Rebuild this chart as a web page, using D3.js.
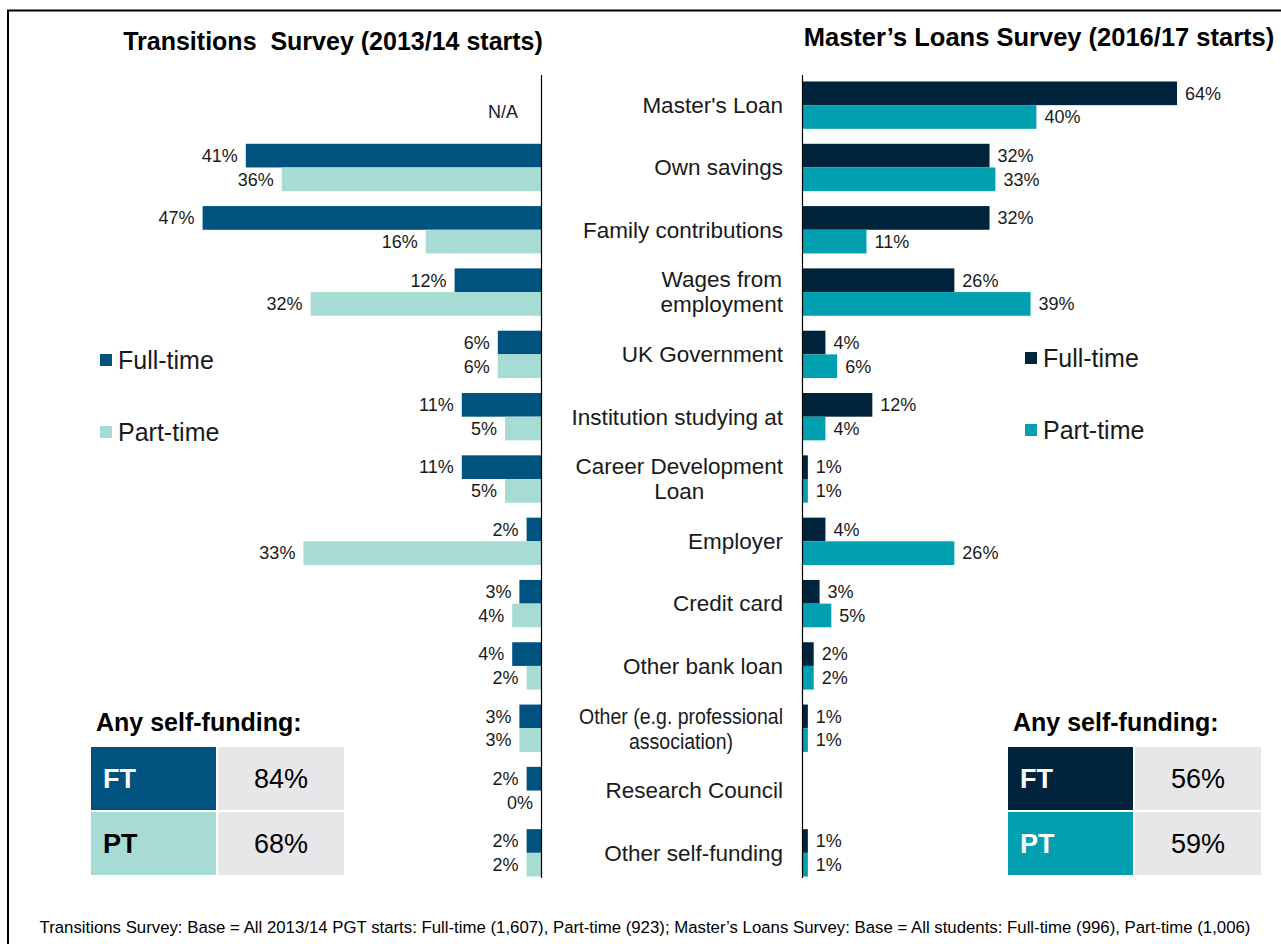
<!DOCTYPE html>
<html lang="en">
<head>
<meta charset="utf-8">
<title>Postgraduate funding sources</title>
<script src="https://d3js.org/d3.v7.min.js"></script>
<style>
  body { margin: 0; background: #fff; }
  text { font-family: "Liberation Sans", Arial, sans-serif; }
</style>
</head>
<body>
<div id="chart"></div>
<script>

// categories (lines split with "|")
var categories = ["Master's Loan", "Own savings", "Family contributions", "Wages from|employment",
  "UK Government", "Institution studying at", "Career Development|Loan", "Employer",
  "Credit card", "Other bank loan", "Other (e.g. professional|association)",
  "Research Council", "Other self-funding"];

// Transitions Survey (2013/14 starts), % ; null = N/A
var transFT = [null, 41, 47, 12, 6, 11, 11, 2, 3, 4, 3, 2, 2];
var transPT = [null, 36, 16, 32, 6, 5, 5, 33, 4, 2, 3, 0, 2];

// Master's Loans Survey (2016/17 starts), %
var mlFT = [64, 32, 32, 26, 4, 12, 1, 4, 3, 2, 1, null, 1];
var mlPT = [40, 33, 11, 39, 6, 4, 1, 26, 5, 2, 1, null, 1];

var series = ["Full-time", "Part-time"];
var selfFundTrans = [84, 68];
var selfFundML = [56, 59];

var colTrans = ["#00527f", "#a6dcd3"];
var colML = ["#00243c", "#00a0b0"];

var W = 1281, H = 944;
var svg = d3.select("#chart").append("svg")
    .attr("width", W).attr("height", H);

// frame
svg.append("path")
    .attr("d", "M8," + H + "V10.5H" + W)
    .attr("fill", "none").attr("stroke", "#000").attr("stroke-width", 2);

var axL = 541, axR = 802;

var y = d3.scaleBand()
    .domain(categories)
    .range([74, 884])
    .paddingInner(0.24)
    .paddingOuter(0.12);
var ySub = d3.scaleBand()
    .domain(series)
    .range([0, y.bandwidth()]);

var xL = d3.scaleLinear().domain([0, 50]).range([axL, axL - 50 * 7.2]);
var xR = d3.scaleLinear().domain([0, 70]).range([axR, axR + 70 * 5.86]);

function rowsFor(a, b) {
  return categories.map(function(c, i) { return {cat: c, vals: [a[i], b[i]]}; });
}

// ----- left panel (Transitions) -----
var gL = svg.append("g");
rowsFor(transFT, transPT).forEach(function(r) {
  r.vals.forEach(function(v, k) {
    if (v === null) return;
    var yy = y(r.cat) + ySub(series[k]);
    gL.append("rect")
        .attr("x", xL(v)).attr("y", yy)
        .attr("width", xL(0) - xL(v)).attr("height", ySub.bandwidth())
        .attr("fill", colTrans[k]);
    gL.append("text")
        .attr("x", xL(v) - 8).attr("y", yy + ySub.bandwidth() / 2)
        .attr("dy", "0.35em").attr("text-anchor", "end")
        .attr("font-size", 18).attr("fill", "#1a1a1a")
        .text(v + "%");
  });
});
gL.append("text")
    .attr("x", 518).attr("y", y(categories[0]) + y.bandwidth() / 2 + 7)
    .attr("dy", "0.35em").attr("text-anchor", "end")
    .attr("font-size", 18).attr("fill", "#1a1a1a").text("N/A");

// ----- right panel (Master's Loans) -----
var gR = svg.append("g");
rowsFor(mlFT, mlPT).forEach(function(r) {
  r.vals.forEach(function(v, k) {
    if (v === null) return;
    var yy = y(r.cat) + ySub(series[k]);
    gR.append("rect")
        .attr("x", xR(0)).attr("y", yy)
        .attr("width", xR(v) - xR(0)).attr("height", ySub.bandwidth())
        .attr("fill", colML[k]);
    gR.append("text")
        .attr("x", xR(v) + 8).attr("y", yy + ySub.bandwidth() / 2)
        .attr("dy", "0.35em")
        .attr("font-size", 18).attr("fill", "#1a1a1a")
        .text(v + "%");
  });
});

// axis lines
[axL, axR].forEach(function(ax) {
  svg.append("line")
      .attr("x1", ax + 0.5).attr("x2", ax + 0.5)
      .attr("y1", 75).attr("y2", 878)
      .attr("stroke", "#000").attr("stroke-width", 1.2);
});

// category labels: block right-aligned, lines centred inside block,
// condensed horizontally when a line is too wide for the gap
var labRight = 783, labMaxW = 220, labFitW = 204;
categories.forEach(function(c) {
  var lines = c.split("|");
  var g = svg.append("g");
  var cy = y(c) + y.bandwidth() / 2;
  var ts = lines.map(function(l, i) {
    return g.append("text")
        .attr("y", cy + (i - (lines.length - 1) / 2) * 25)
        .attr("dy", "0.35em").attr("text-anchor", "middle")
        .attr("font-size", 22.5).attr("fill", "#1a1a1a")
        .text(l);
  });
  var widths = ts.map(function(t) { return t.node().getComputedTextLength(); });
  var maxW = d3.max(widths);
  if (maxW > labMaxW) {
    var k = labFitW / maxW;
    ts.forEach(function(t, i) {
      t.attr("textLength", widths[i] * k).attr("lengthAdjust", "spacingAndGlyphs");
    });
    maxW = labFitW;
  }
  ts.forEach(function(t) { t.attr("x", labRight - maxW / 2); });
});

// titles
svg.append("text").attr("x", 333).attr("y", 50).attr("text-anchor", "middle")
    .attr("font-size", 25).attr("font-weight", "bold").attr("fill", "#000")
    .attr("xml:space", "preserve")
    .text("Transitions  Survey (2013/14 starts)");
svg.append("text").attr("x", 1039).attr("y", 46).attr("text-anchor", "middle")
    .attr("font-size", 25.5).attr("font-weight", "bold").attr("fill", "#000")
    .text("Master\u2019s Loans Survey (2016/17 starts)");

// legends
function legend(x, y0, cols) {
  series.forEach(function(s, i) {
    var yy = y0 + i * 72;
    svg.append("rect").attr("x", x).attr("y", yy - 6).attr("width", 12).attr("height", 12)
        .attr("fill", cols[i]);
    svg.append("text").attr("x", x + 18).attr("y", yy).attr("dy", "0.35em")
        .attr("font-size", 25).attr("fill", "#1a1a1a").text(s);
  });
}
legend(100, 360, colTrans);
legend(1025, 358, colML);

// self-funding tables
function table(x, vals, cols, ptTextCol) {
  svg.append("text").attr("x", x + 5).attr("y", 731)
      .attr("font-size", 25).attr("font-weight", "bold").attr("fill", "#000")
      .text("Any self-funding:");
  ["FT", "PT"].forEach(function(lab, i) {
    var yy = 747 + i * 65;
    svg.append("rect").attr("x", x).attr("y", yy).attr("width", 125).attr("height", 63)
        .attr("fill", cols[i]);
    svg.append("rect").attr("x", x + 127).attr("y", yy).attr("width", 126).attr("height", 63)
        .attr("fill", "#e7e7e9");
    svg.append("text").attr("x", x + 12).attr("y", yy + 32).attr("dy", "0.35em")
        .attr("font-size", 27).attr("font-weight", "bold")
        .attr("fill", i === 0 ? "#fff" : ptTextCol).text(lab);
    svg.append("text").attr("x", x + 190).attr("y", yy + 32).attr("dy", "0.35em")
        .attr("text-anchor", "middle").attr("font-size", 27).attr("fill", "#000")
        .text(vals[i] + "%");
  });
}
table(91, selfFundTrans, colTrans, "#000");
table(1008, selfFundML, colML, "#fff");

// footnote
svg.append("text").attr("x", 645).attr("y", 933).attr("text-anchor", "middle")
    .attr("font-size", 16.8).attr("fill", "#000")
    .text("Transitions Survey: Base = All 2013/14 PGT starts: Full-time (1,607), Part-time (923); Master\u2019s Loans Survey: Base = All students: Full-time (996), Part-time (1,006)");

</script>
</body>
</html>
